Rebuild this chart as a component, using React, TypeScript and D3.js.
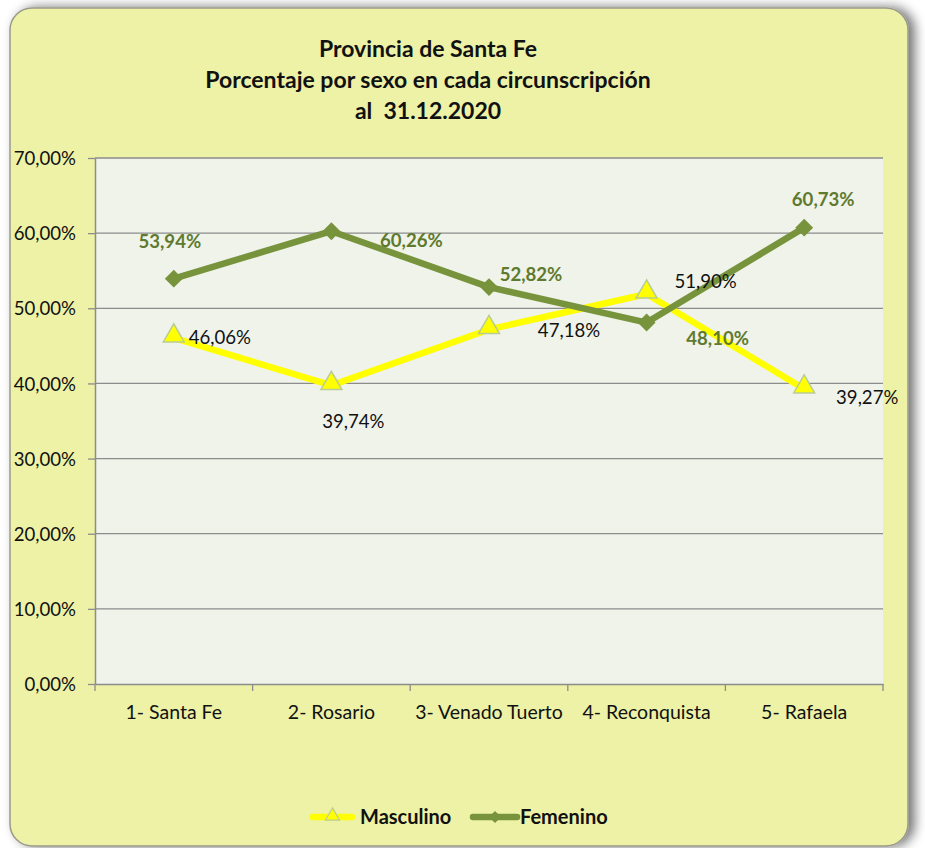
import React, { useEffect, useRef } from 'react';
import * as d3 from 'd3';

const categories = ['1- Santa Fe', '2- Rosario', '3- Venado Tuerto', '4- Reconquista', '5- Rafaela'];
const masculino = [46.06, 39.74, 47.18, 51.9, 39.27];
const femenino = [53.94, 60.26, 52.82, 48.1, 60.73];
const yTicks = [0, 10, 20, 30, 40, 50, 60, 70];
const titleLines = ['Provincia de Santa Fe', 'Porcentaje por sexo en cada circunscripción', 'al  31.12.2020'];

// label offsets from their point (px)
const mascOffsets = [[46, -1], [22, 36], [80, 1], [59, -13], [63, 8]];
const femOffsets = [[-4, -37], [80, 9], [42, -13], [71, 16], [19, -28]];

const W = 925;
const H = 848;
const margin = { top: 158, right: 42, bottom: 164, left: 95 };
const FONT = 'Lato, Carlito, "Open Sans", sans-serif';
const fmt = (v: number) => v.toFixed(2).replace('.', ',') + '%';

const App = () => {
  const svgRef = useRef<SVGSVGElement>(null);

  useEffect(() => {
    const svg = d3.select(svgRef.current);
    svg.selectAll('*').remove();

    const chartWidth = W - margin.left - margin.right;
    const chartHeight = H - margin.top - margin.bottom;

    // shadow + frame
    const defs = svg.append('defs');
    const f = defs.append('filter').attr('id', 'sh').attr('x', '-5%').attr('y', '-5%').attr('width', '110%').attr('height', '110%');
    f.append('feGaussianBlur').attr('in', 'SourceAlpha').attr('stdDeviation', 6);
    f.append('feOffset').attr('dx', 6).attr('dy', 0).attr('result', 'b');
    f.append('feComponentTransfer').append('feFuncA').attr('type', 'linear').attr('slope', 0.55);
    const fm = f.append('feMerge');
    fm.append('feMergeNode');
    fm.append('feMergeNode').attr('in', 'SourceGraphic');

    svg.append('rect').attr('width', W).attr('height', H).attr('fill', '#ffffff');
    svg.append('rect')
      .attr('x', 10).attr('y', 8).attr('width', 898).attr('height', 838)
      .attr('rx', 22).attr('ry', 22)
      .attr('fill', '#edf2a6')
      .attr('stroke', '#9a9a8a').attr('stroke-width', 1.5)
      .attr('filter', 'url(#sh)');

    // title
    svg.append('text')
      .attr('text-anchor', 'middle')
      .attr('font-family', FONT).attr('font-weight', 'bold').attr('font-size', 23)
      .attr('fill', '#111')
      .style('white-space', 'pre')
      .selectAll('tspan').data(titleLines).join('tspan')
      .attr('x', 428).attr('y', (d, i) => 57 + i * 31)
      .text(d => d);

    const x = d3.scaleBand().domain(categories).range([0, chartWidth]);
    const y = d3.scaleLinear().domain([0, 70]).range([chartHeight, 0]);
    const cx = (i: number) => (x(categories[i]) as number) + x.bandwidth() / 2;

    const g = svg.append('g').attr('transform', `translate(${margin.left},${margin.top})`);

    g.append('rect').attr('width', chartWidth).attr('height', chartHeight).attr('fill', '#eff3e9');

    // gridlines
    g.append('g').selectAll('line').data(yTicks.filter(t => t > 0)).join('line')
      .attr('x1', 0).attr('x2', chartWidth)
      .attr('y1', d => y(d)).attr('y2', d => y(d))
      .attr('stroke', '#8c8c8c').attr('stroke-width', 1.3);

    // y axis
    const yAxis = g.append('g')
      .call(d3.axisLeft(y).tickValues(yTicks).tickSize(7).tickSizeOuter(0).tickFormat(d => fmt(d as number)));
    yAxis.select('.domain').attr('stroke', '#8c8c8c').attr('stroke-width', 1.5);
    yAxis.selectAll('.tick line').attr('stroke', '#8c8c8c').attr('stroke-width', 1.3);
    yAxis.selectAll('.tick text')
      .attr('font-family', FONT).attr('font-size', 18.6).attr('fill', '#111').attr('x', -19).attr('dy', '0.36em');

    // x axis
    const xAxis = g.append('g').attr('transform', `translate(0,${chartHeight})`)
      .call(d3.axisBottom(x).tickSize(0).tickSizeOuter(0));
    xAxis.select('.domain').attr('stroke', '#8c8c8c').attr('stroke-width', 1.5);
    xAxis.selectAll('.tick text')
      .attr('font-family', FONT).attr('font-size', 19.5).attr('fill', '#111').attr('y', 28).attr('dy', '0.36em');
    xAxis.append('g').selectAll('line').data(d3.range(categories.length + 1)).join('line')
      .attr('x1', i => i * x.step()).attr('x2', i => i * x.step())
      .attr('y1', 0).attr('y2', 7)
      .attr('stroke', '#8c8c8c').attr('stroke-width', 1.3);

    const line = d3.line<number>().x((d, i) => cx(i)).y(d => y(d));

    const triangle = d3.symbol().type(d3.symbolTriangle).size(190);
    const diamond = d3.symbol().type(d3.symbolSquare).size(160);

    // masculino
    g.append('path').datum(masculino)
      .attr('fill', 'none').attr('stroke', '#ffff00').attr('stroke-width', 6.5)
      .attr('stroke-linejoin', 'round').attr('d', line);
    g.append('g').selectAll('path').data(masculino).join('path')
      .attr('d', triangle)
      .attr('transform', (d, i) => `translate(${cx(i)},${y(d) - 2})`)
      .attr('fill', '#ffff00').attr('stroke', '#b9cc95').attr('stroke-width', 1.5);

    // femenino
    g.append('path').datum(femenino)
      .attr('fill', 'none').attr('stroke', '#77933c').attr('stroke-width', 6.5)
      .attr('stroke-linejoin', 'round').attr('d', line);
    g.append('g').selectAll('path').data(femenino).join('path')
      .attr('d', diamond)
      .attr('transform', (d, i) => `translate(${cx(i)},${y(d)}) rotate(45)`)
      .attr('fill', '#77933c');

    // labels
    g.append('g').selectAll('text').data(masculino).join('text')
      .attr('x', (d, i) => cx(i) + mascOffsets[i][0])
      .attr('y', (d, i) => y(d) + mascOffsets[i][1])
      .attr('dy', '0.36em').attr('text-anchor', 'middle')
      .attr('font-family', FONT).attr('font-size', 18.6).attr('fill', '#111')
      .text(d => fmt(d));
    g.append('g').selectAll('text').data(femenino).join('text')
      .attr('x', (d, i) => cx(i) + femOffsets[i][0])
      .attr('y', (d, i) => y(d) + femOffsets[i][1])
      .attr('dy', '0.36em').attr('text-anchor', 'middle')
      .attr('font-family', FONT).attr('font-size', 18.6).attr('font-weight', 'bold').attr('fill', '#5f7a2e')
      .text(d => fmt(d));

    // legend
    const legend = svg.append('g').attr('transform', 'translate(0,817)');
    const items = [
      { name: 'Masculino', color: '#ffff00', x0: 313, x1: 352, tx: 360, sym: 'tri' },
      { name: 'Femenino', color: '#77933c', x0: 473, x1: 517, tx: 520, sym: 'dia' },
    ];
    items.forEach(it => {
      legend.append('line').attr('x1', it.x0).attr('x2', it.x1).attr('y1', 0).attr('y2', 0)
        .attr('stroke', it.color).attr('stroke-width', 6.5).attr('stroke-linecap', 'round');
      const mx = (it.x0 + it.x1) / 2;
      if (it.sym === 'tri') {
        legend.append('path').attr('d', d3.symbol().type(d3.symbolTriangle).size(85)())
          .attr('transform', `translate(${mx},-1)`)
          .attr('fill', '#ffff00').attr('stroke', '#b9cc95').attr('stroke-width', 1.2);
      } else {
        legend.append('path').attr('d', d3.symbol().type(d3.symbolSquare).size(75)())
          .attr('transform', `translate(${mx},0) rotate(45)`)
          .attr('fill', it.color);
      }
      legend.append('text').attr('x', it.tx).attr('y', 0).attr('dy', '0.36em')
        .attr('font-family', FONT).attr('font-size', 20).attr('font-weight', 'bold').attr('fill', '#111')
        .text(it.name);
    });
  }, []);

  return (
    <svg ref={svgRef} width={W} height={H} style={{ position: 'absolute', left: 0, top: 0, display: 'block' }}></svg>
  );
};

export default App;
